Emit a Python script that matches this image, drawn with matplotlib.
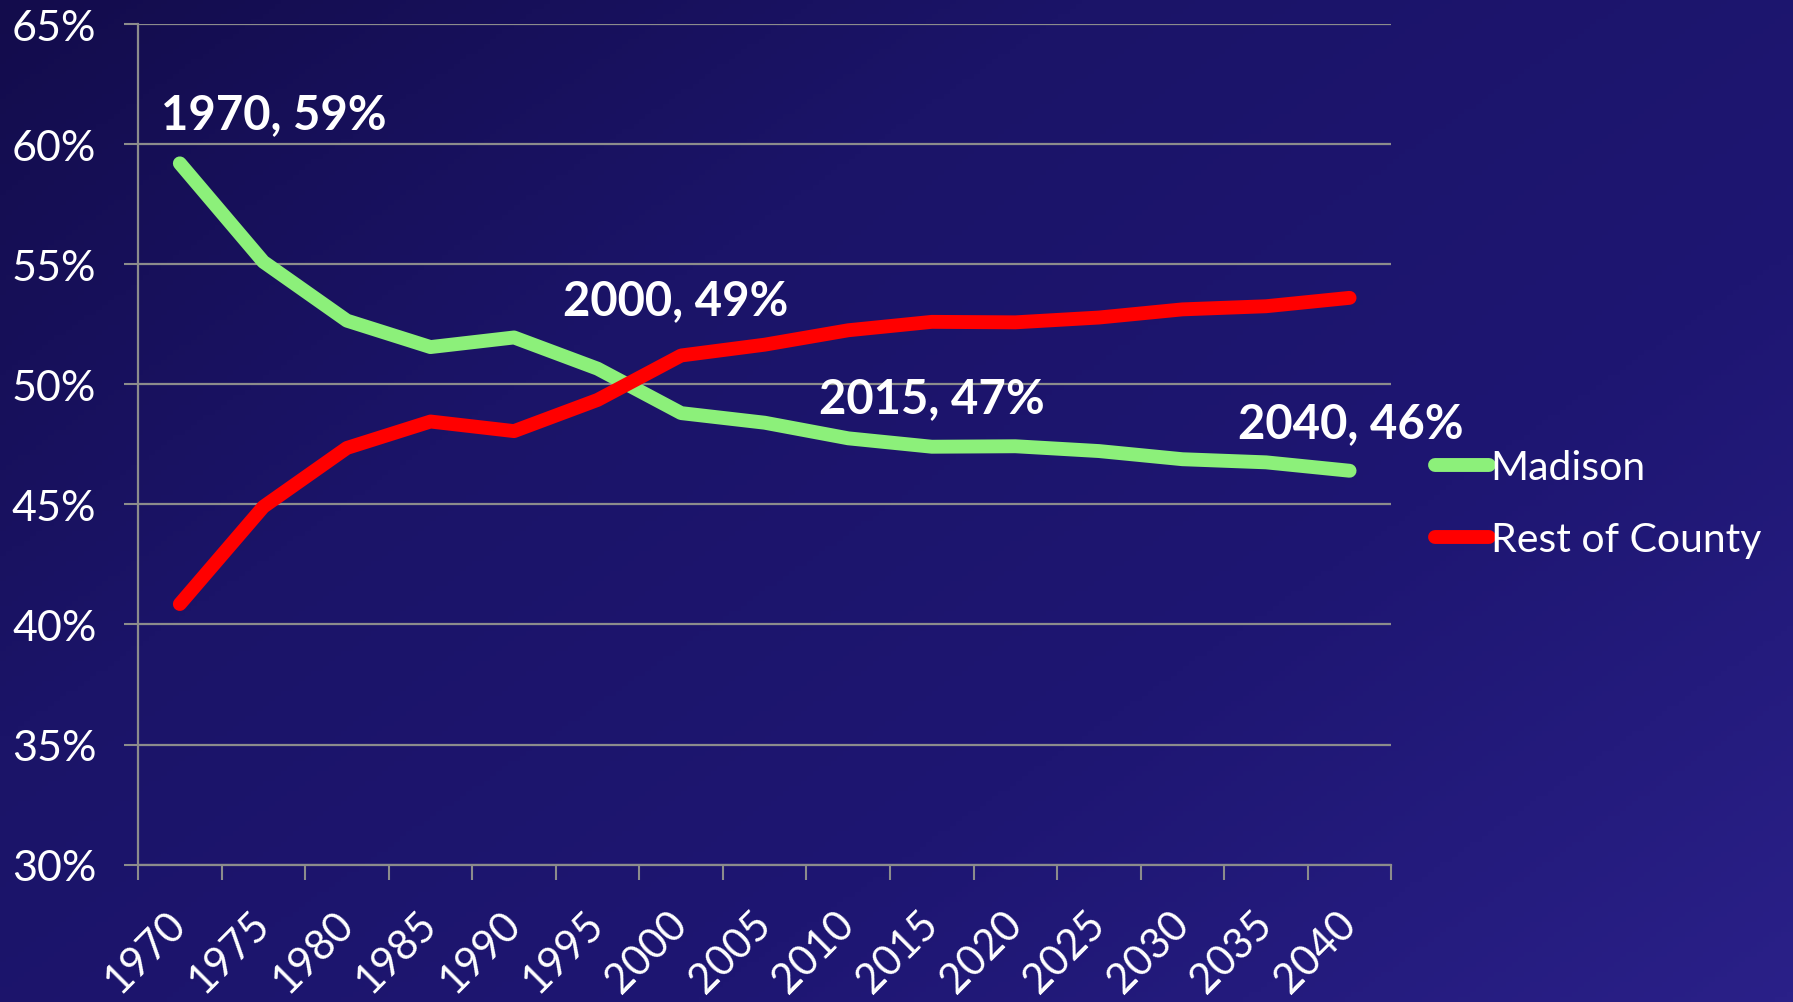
import numpy as np
import matplotlib
matplotlib.use('Agg')
from matplotlib import pyplot as plt
from matplotlib.colors import LinearSegmentedColormap

# datos
anios = ['1970', '1975', '1980', '1985', '1990', '1995', '2000', '2005',
         '2010', '2015', '2020', '2025', '2030', '2035', '2040']
madison = [59.2, 55.1, 52.65, 51.55, 51.95, 50.65, 48.8, 48.4,
           47.75, 47.4, 47.42, 47.22, 46.88, 46.75, 46.4]
resto = [40.85, 44.9, 47.35, 48.45, 48.05, 49.35, 51.2, 51.65,
         52.25, 52.6, 52.58, 52.78, 53.12, 53.25, 53.6]
y_ticks = [30, 35, 40, 45, 50, 55, 60, 65]

# etiquetas de datos: (indice, valor, texto)
etiquetas = [(1.12, 61.25, '1970, 59%'),
             (5.94, 53.5, '2000, 49%'),
             (9.0, 49.42, '2015, 47%'),
             (14.01, 48.38, '2040, 46%')]

plt.rcParams['font.family'] = ['Lato', 'DejaVu Sans']

fig = plt.figure(figsize=(17.93, 10.03), dpi=100)

# fondo degradado
bg = fig.add_axes([0, 0, 1, 1], zorder=-1)
cmap = LinearSegmentedColormap.from_list('fondo', ['#130c4c', '#1b1468', '#1e1672', '#2a2088'])
xx, yy = np.meshgrid(np.linspace(0, 1, 300), np.linspace(0, 1, 200))
grad = 0.55 * xx + 0.45 * yy
bg.imshow(grad, cmap=cmap, aspect='auto', extent=(0, 1, 1, 0))
bg.axis('off')

ax = fig.add_axes([0.077, 0.137, 0.699, 0.838])
ax.set_facecolor('none')

x = np.arange(len(anios))
ax.plot(x, madison, color='#8cf07a', lw=10, solid_capstyle='round',
        solid_joinstyle='round', label='Madison', zorder=3)
ax.plot(x, resto, color='#ff0000', lw=10, solid_capstyle='round',
        solid_joinstyle='round', label='Rest of County', zorder=3)

for xi, yi, txt in etiquetas:
    ax.text(xi, yi, txt, color='white', fontsize=34, fontweight='bold',
            ha='center', va='center', zorder=4)

ax.set_xlim(-0.5, len(anios) - 0.5)
ax.set_ylim(30, 65)
ax.set_yticks(y_ticks)
ax.set_yticklabels([f'{v}%' for v in y_ticks])
ax.set_xticks(x)
ax.set_xticklabels(anios, rotation=45, ha='right', va='center',
                   rotation_mode='anchor')
ax.set_xticks(np.arange(-0.5, len(anios)), minor=True)

ax.grid(axis='y', color='#8c8c8c', lw=1.6)
ax.set_axisbelow(True)
ax.tick_params(axis='x', which='major', length=0, pad=38, labelsize=30, labelcolor='white')
ax.tick_params(axis='x', which='minor', length=11, width=1.5, color='#8c8c8c')
ax.tick_params(axis='y', length=10, width=1.5, color='#8c8c8c', labelsize=31,
               labelcolor='white', pad=20)

for lado in ['top', 'right']:
    ax.spines[lado].set_visible(False)
for lado in ['left', 'bottom']:
    ax.spines[lado].set_color('#8c8c8c')
    ax.spines[lado].set_linewidth(1.6)

leg = fig.legend(loc='center left', bbox_to_anchor=(0.780, 0.497), frameon=False,
                 fontsize=29.5, handlelength=1.3, handletextpad=0.05,
                 labelspacing=0.85, labelcolor='white')

fig.savefig('out.png', dpi=100)
